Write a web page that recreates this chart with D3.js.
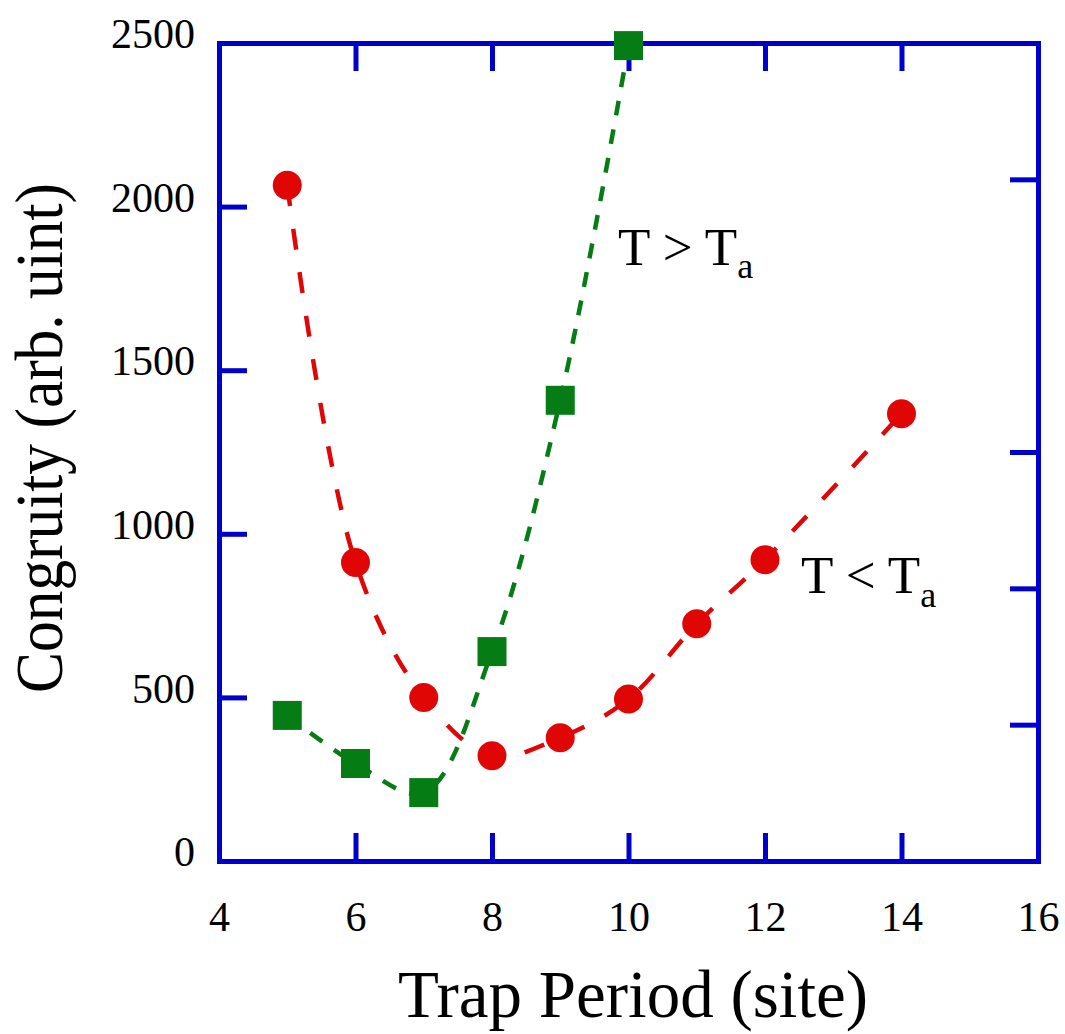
<!DOCTYPE html>
<html>
  <head>
    <meta charset="utf-8">
    <title>Congruity vs Trap Period</title>
    <script src="https://cdn.jsdelivr.net/npm/d3@7"></script>
    <style>
      body { margin: 0; background: white; }
      text { font-family: 'Liberation Serif', 'Times New Roman', serif; fill: #000; }
      .axis path, .axis line { stroke: #0000cc; stroke-width: 5; }
      .axis-title { font-size: 67px; text-anchor: middle; }
      .note { font-size: 53px; }
    </style>
  </head>
  <body>
    <script>
      // data
      var redX = [5, 6, 7, 8, 9, 10, 11, 12, 14];
      var redY = [2065, 912, 500, 322, 377, 495, 725, 921, 1367];
      var greenX = [5, 6, 7, 8, 9, 10];
      var greenY = [445, 298, 209, 640, 1408, 2492];
      var xTicks = [4, 6, 8, 10, 12, 14, 16];
      var yTicks = [0, 500, 1000, 1500, 2000, 2500];
      // the right frame has its own six divisions
      var rightTicks = [1, 2, 3, 4, 5];

      var width = 1065, height = 1034;
      var margin = { left: 219, top: 43, right: 27, bottom: 173 };
      var innerWidth = width - margin.left - margin.right;
      var innerHeight = height - margin.top - margin.bottom;

      var svg = d3.select("body").append("svg")
        .attr("width", width)
        .attr("height", height);

      var g = svg.append("g")
        .attr("transform", "translate(" + margin.left + "," + margin.top + ")");

      var x = d3.scaleLinear().domain([4, 16]).range([0, innerWidth]);
      var y = d3.scaleLinear().domain([0, 2500]).range([innerHeight, 0]);
      var yRight = d3.scaleLinear().domain([0, 6]).range([innerHeight, 0]);

      g.append("g").attr("class", "axis x-bottom")
        .attr("transform", "translate(0," + innerHeight + ")")
        .call(d3.axisBottom(x).tickValues(xTicks).tickSizeInner(-28).tickSizeOuter(0).tickPadding(40));
      g.append("g").attr("class", "axis y-left")
        .call(d3.axisLeft(y).tickValues(yTicks).tickSizeInner(-28).tickSizeOuter(0)
          .tickPadding(24).tickFormat(d3.format("d")));
      var topAxis = g.append("g").attr("class", "axis mirror")
        .call(d3.axisTop(x).tickValues(xTicks).tickSizeInner(-28).tickSizeOuter(0));
      var rightAxis = g.append("g").attr("class", "axis mirror")
        .attr("transform", "translate(" + innerWidth + ",0)")
        .call(d3.axisRight(yRight).tickValues(rightTicks).tickSizeInner(-28).tickSizeOuter(0));
      g.selectAll(".mirror .tick text").remove();

      g.selectAll(".axis")
        .attr("font-family", "'Liberation Serif', serif")
        .attr("font-size", 42);
      g.selectAll(".axis path").attr("stroke-linecap", "square");
      g.selectAll(".y-left .tick text").attr("dy", "0.11em");
      // no tick marks on the frame corners
      g.selectAll(".x-bottom .tick, .y-left .tick, .mirror .tick")
        .filter(function(d) { return d === 4 || d === 16 || d === 0 || d === 2500; })
        .select("line").remove();

      var red = redX.map(function(d, i) { return [d, redY[i]]; });
      var green = greenX.map(function(d, i) { return [d, greenY[i]]; });

      var line = d3.line()
        .x(function(d) { return x(d[0]); })
        .y(function(d) { return y(d[1]); })
        .curve(d3.curveCatmullRom.alpha(0.5));

      g.append("path").datum(red)
        .attr("d", line)
        .attr("fill", "none")
        .attr("stroke", "#e00606")
        .attr("stroke-width", 4.5)
        .attr("stroke-dasharray", "21,23");

      g.append("path").datum(green)
        .attr("d", line)
        .attr("fill", "none")
        .attr("stroke", "#057d14")
        .attr("stroke-width", 4.5)
        .attr("stroke-dasharray", "15,14");

      g.selectAll("rect.pt").data(green).enter().append("rect")
        .attr("class", "pt")
        .attr("x", function(d) { return x(d[0]) - 14.5; })
        .attr("y", function(d) { return y(d[1]) - 14.5; })
        .attr("width", 29)
        .attr("height", 29)
        .attr("fill", "#057d14");

      g.selectAll("circle.pt").data(red).enter().append("circle")
        .attr("class", "pt")
        .attr("cx", function(d) { return x(d[0]); })
        .attr("cy", function(d) { return y(d[1]); })
        .attr("r", 14.5)
        .attr("fill", "#e00606");

      // annotations
      var n1 = svg.append("text").attr("class", "note").attr("x", 618).attr("y", 265);
      n1.append("tspan").text("T > T");
      n1.append("tspan").attr("dy", 13).attr("font-size", 36).text("a");
      var n2 = svg.append("text").attr("class", "note").attr("x", 801).attr("y", 593);
      n2.append("tspan").text("T < T");
      n2.append("tspan").attr("dy", 14).attr("font-size", 36).text("a");

      // axis titles
      svg.append("text").attr("class", "axis-title")
        .attr("x", 633)
        .attr("y", 1017)
        .text("Trap Period (site)");
      svg.append("text").attr("class", "axis-title")
        .attr("transform", "translate(62,438) rotate(-90)")
        .attr("textLength", 510)
        .attr("lengthAdjust", "spacingAndGlyphs")
        .text("Congruity (arb. uint)");
    </script>
  </body>
</html>
